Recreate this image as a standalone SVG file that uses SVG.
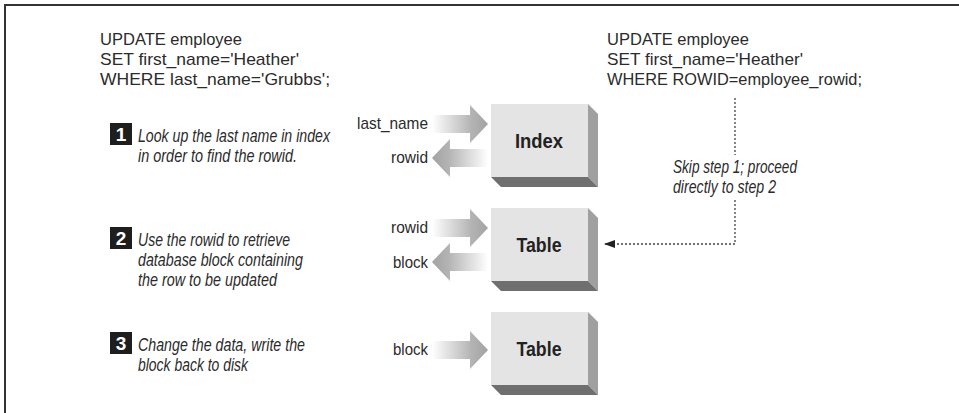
<svg xmlns="http://www.w3.org/2000/svg" width="959" height="413" viewBox="0 0 959 413">
<defs>
<style>
.t{font-family:"Liberation Sans",Arial,sans-serif;font-size:17px;fill:#2b2b2b}
.i{font-family:"Liberation Sans",Arial,sans-serif;font-size:17.5px;font-style:italic;fill:#2b2b2b}
.b{font-family:"Liberation Sans",Arial,sans-serif;font-size:20px;font-weight:bold;fill:#222;text-anchor:middle}
.n{font-family:"Liberation Sans",Arial,sans-serif;font-size:19px;font-weight:bold;fill:#fff;text-anchor:middle}
.nb{fill:#1e1e1e}
.front{fill:#e4e4e4}
.side{fill:#a0a0a0}
.bottom{fill:#6f6f6f}
.dot{fill:none;stroke:#444;stroke-width:1.3;stroke-dasharray:2 2}
</style>
<linearGradient id="gR" x1="0" y1="0" x2="1" y2="0">
<stop offset="0" stop-color="#ffffff"/>
<stop offset="0.7" stop-color="#b4b4b4"/>
<stop offset="1" stop-color="#a2a2a2"/>
</linearGradient>
<linearGradient id="gL" x1="0" y1="0" x2="1" y2="0">
<stop offset="0" stop-color="#a2a2a2"/>
<stop offset="0.3" stop-color="#b4b4b4"/>
<stop offset="1" stop-color="#ffffff"/>
</linearGradient>
<path id="arrR" d="M0,-9 H38 V-19 L56,0 L38,19 V9 H0 Z" fill="url(#gR)"/>
<path id="arrL" d="M0,0 L18,-19 V-9 H56 V9 H18 V19 Z" fill="url(#gL)"/>
<marker id="ah" markerWidth="11" markerHeight="8" refX="10" refY="4" orient="auto" markerUnits="userSpaceOnUse">
<path d="M0,0 L11,4 L0,8 Z" fill="#222"/>
</marker>
</defs>
<rect width="959" height="413" fill="#fff"/>
<path d="M5,413 V5 H959" fill="none" stroke="#333" stroke-width="2"/>

<g id="sql-left">
<text class="t" x="100" y="45" textLength="142" lengthAdjust="spacingAndGlyphs">UPDATE employee</text>
<text class="t" x="100" y="65" textLength="199" lengthAdjust="spacingAndGlyphs">SET first_name='Heather'</text>
<text class="t" x="100" y="85" textLength="230" lengthAdjust="spacingAndGlyphs">WHERE last_name='Grubbs';</text>
</g>
<g id="sql-right">
<text class="t" x="607" y="45" textLength="142" lengthAdjust="spacingAndGlyphs">UPDATE employee</text>
<text class="t" x="607" y="65" textLength="196" lengthAdjust="spacingAndGlyphs">SET first_name='Heather'</text>
<text class="t" x="607" y="85" textLength="255" lengthAdjust="spacingAndGlyphs">WHERE ROWID=employee_rowid;</text>
</g>

<g id="step1">
<rect class="nb" x="110" y="123" width="22" height="22"/>
<text class="n" x="121" y="141">1</text>
<text class="i" x="138" y="142" textLength="192" lengthAdjust="spacingAndGlyphs">Look up the last name in index</text>
<text class="i" x="138" y="162" textLength="159" lengthAdjust="spacingAndGlyphs">in order to find the rowid.</text>
</g>
<g id="step2">
<rect class="nb" x="110" y="227" width="22" height="22"/>
<text class="n" x="121" y="245">2</text>
<text class="i" x="138" y="246" textLength="152" lengthAdjust="spacingAndGlyphs">Use the rowid to retrieve</text>
<text class="i" x="138" y="266" textLength="165" lengthAdjust="spacingAndGlyphs">database block containing</text>
<text class="i" x="138" y="286" textLength="139" lengthAdjust="spacingAndGlyphs">the row to be updated</text>
</g>
<g id="step3">
<rect class="nb" x="110" y="332" width="22" height="22"/>
<text class="n" x="121" y="350">3</text>
<text class="i" x="138" y="351" textLength="167" lengthAdjust="spacingAndGlyphs">Change the data, write the</text>
<text class="i" x="138" y="371" textLength="110" lengthAdjust="spacingAndGlyphs">block back to disk</text>
</g>

<g id="index">
<rect class="front" x="491" y="104" width="97" height="73"/>
<polygon class="side" points="588,104 598,114 598,187 588,177"/>
<polygon class="bottom" points="491,177 588,177 598,187 501,187"/>
<text class="b" x="539" y="148" textLength="48" lengthAdjust="spacingAndGlyphs">Index</text>
</g>
<g id="table1">
<rect class="front" x="491" y="208" width="97" height="73"/>
<polygon class="side" points="588,208 598,218 598,291 588,281"/>
<polygon class="bottom" points="491,281 588,281 598,291 501,291"/>
<text class="b" x="539" y="252" textLength="45" lengthAdjust="spacingAndGlyphs">Table</text>
</g>
<g id="table2">
<rect class="front" x="491" y="312" width="97" height="73"/>
<polygon class="side" points="588,312 598,322 598,395 588,385"/>
<polygon class="bottom" points="491,385 588,385 598,395 501,395"/>
<text class="b" x="539" y="356" textLength="45" lengthAdjust="spacingAndGlyphs">Table</text>
</g>

<g id="connectors">
<use href="#arrR" x="432" y="124"/>
<use href="#arrL" x="432" y="158"/>
<use href="#arrR" x="432" y="228"/>
<use href="#arrL" x="432" y="262"/>
<use href="#arrR" x="432" y="350"/>
<path class="dot" d="M735,98 V155"/>
<path class="dot" d="M735,200 V244 H605" marker-end="url(#ah)"/>
</g>

<g id="labels">
<text class="t" text-anchor="end" x="428" y="129" textLength="71" lengthAdjust="spacingAndGlyphs">last_name</text>
<text class="t" text-anchor="end" x="428" y="163" textLength="37" lengthAdjust="spacingAndGlyphs">rowid</text>
<text class="t" text-anchor="end" x="428" y="233" textLength="37" lengthAdjust="spacingAndGlyphs">rowid</text>
<text class="t" text-anchor="end" x="428" y="268" textLength="35" lengthAdjust="spacingAndGlyphs">block</text>
<text class="t" text-anchor="end" x="428" y="355" textLength="35" lengthAdjust="spacingAndGlyphs">block</text>
<text class="i" x="673" y="173" textLength="124" lengthAdjust="spacingAndGlyphs">Skip step 1; proceed</text>
<text class="i" x="673" y="193" textLength="103" lengthAdjust="spacingAndGlyphs">directly to step 2</text>
</g>
</svg>
